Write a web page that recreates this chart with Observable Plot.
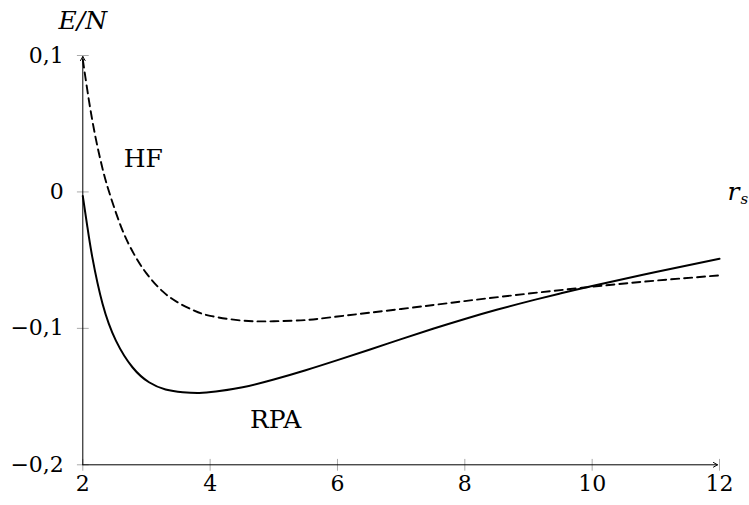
<!DOCTYPE html>
<html><head><meta charset="utf-8">
<script src="https://cdn.jsdelivr.net/npm/d3@7"></script>
<script src="https://cdn.jsdelivr.net/npm/@observablehq/plot@0.6"></script>
<style>
body{margin:0;background:#fff}
</style>
</head><body><div id="chart"></div>
<script>
// r_s values and energies per particle
const rsHF = [2.0, 2.1, 2.2, 2.3, 2.4, 2.6, 2.8, 3.0, 3.25, 3.5, 3.75, 4.0, 4.5, 5.0, 5.5, 6.0, 7.0, 8.0, 9.0, 10.0, 11.0, 12.0];
const hf   = [0.097, 0.066, 0.040, 0.019, 0.002, -0.0254, -0.0452, -0.0597, -0.0727, -0.0812, -0.0870, -0.0908, -0.0943, -0.0948, -0.0939, -0.0913, -0.0858, -0.0800, -0.0745, -0.0695, -0.0650, -0.0612];
const rsRPA = [2.0, 2.07, 2.15, 2.31, 2.52, 2.78, 3.04, 3.3, 3.57, 3.83, 4.09, 4.51, 5.0, 5.5, 6.0, 6.5, 7.0, 7.5, 8.0, 8.5, 9.0, 9.5, 10.0, 11.0, 12.0];
const rpa   = [-0.003, -0.025, -0.048, -0.082, -0.109, -0.1285, -0.1395, -0.1448, -0.1468, -0.1473, -0.1463, -0.1432, -0.1375, -0.1307, -0.1233, -0.1157, -0.1079, -0.1003, -0.0931, -0.0864, -0.0802, -0.0744, -0.0689, -0.0587, -0.049];
const xTicks = [2, 4, 6, 8, 10, 12];
const yTicks = [-0.2, -0.1, 0, 0.1];
const curveLabels = ["HF", "RPA"];
const curveLabelX = [2.95, 5.03];
const curveLabelY = [0.024, -0.167];

const hfData = rsHF.map((x, i) => ({x, y: hf[i]}));
const rpaData = rsRPA.map((x, i) => ({x, y: rpa[i]}));
const labelData = curveLabels.map((t, i) => ({text: t, x: curveLabelX[i], y: curveLabelY[i]}));

const fmt = d => d === 0 ? "0" : (d < 0 ? "\u2212" : "") + Math.abs(d).toFixed(1).replace(".", ",");
const tickShape = {draw(ctx, l) { ctx.moveTo(0, -l / 2); ctx.lineTo(0, l / 2); }};
const serif = "DejaVu Serif";

const chart = Plot.plot({
  width: 749, height: 505,
  marginLeft: 82.3, marginRight: 30, marginTop: 55, marginBottom: 40.7,
  style: {fontSize: "22px", background: "white", color: "black"},
  x: {domain: [2, 12]},
  y: {domain: [-0.2, 0.1]},
  marks: [
    Plot.axisX(xTicks, {tickSize: 0, tickPadding: 11, tickFormat: d => String(d), fontSize: 22, fontFamily: serif, label: null}),
    Plot.axisY(yTicks, {tickSize: 0, tickPadding: 19, tickFormat: fmt, fontSize: 22, fontFamily: serif, label: null}),
    Plot.vector(xTicks, {x: d => d, y: () => -0.2, length: 11, anchor: "start", shape: tickShape, stroke: "#aaa", strokeWidth: 1}),
    Plot.vector(yTicks, {x: () => 2, y: d => d, length: 11, rotate: 90, anchor: "start", shape: tickShape, stroke: "#aaa", strokeWidth: 1}),
    Plot.arrow([0], {x1: () => 2, y1: () => -0.2, x2: () => 12, y2: () => -0.2, bend: 0, headLength: 7, insetEnd: 2, stroke: "black", strokeWidth: 1}),
    Plot.arrow([0], {x1: () => 2, y1: () => -0.2, x2: () => 2, y2: () => 0.1, bend: 0, headLength: 7, insetEnd: 1, stroke: "black", strokeWidth: 1}),
    Plot.line(hfData, {x: "x", y: "y", curve: "natural", stroke: "black", strokeWidth: 1.9, strokeDasharray: "8,5"}),
    Plot.line(rpaData, {x: "x", y: "y", curve: "natural", stroke: "black", strokeWidth: 2}),
    Plot.text(labelData, {x: "x", y: "y", text: "text", fontSize: 25, fontFamily: serif, fill: "black"}),
    Plot.text(["E/N"], {x: () => 2, y: () => 0.1, dy: -35, fontSize: 25, fontFamily: serif, fontStyle: "italic", fill: "black"}),
    Plot.text(["r"], {x: () => 12, y: () => 0, dx: 8, textAnchor: "start", fontSize: 25, fontFamily: serif, fontStyle: "italic", fill: "black"}),
    Plot.text(["s"], {x: () => 12, y: () => 0, dx: 21, dy: 7, textAnchor: "start", fontSize: 15, fontFamily: serif, fontStyle: "italic", fill: "black"})
  ]
});
document.getElementById("chart").appendChild(chart);
</script>
</body></html>
